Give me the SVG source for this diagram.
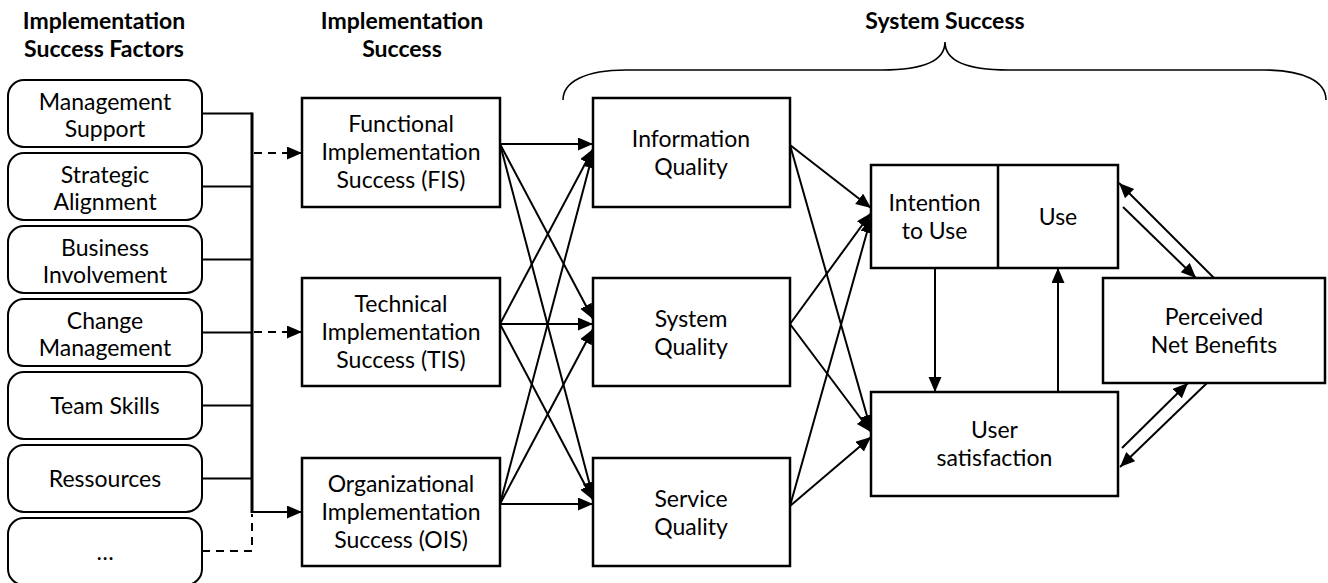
<svg xmlns="http://www.w3.org/2000/svg" width="1328" height="583" viewBox="0 0 1328 583">
<defs>
<marker id="ah" markerUnits="userSpaceOnUse" markerWidth="16" markerHeight="14" refX="15" refY="6.5" orient="auto">
<path d="M0,0 L15,6.5 L0,13 z" fill="#000"/>
</marker>
<style>
text{font-family:Lato,"Liberation Sans",sans-serif;font-size:23px;fill:#000;text-anchor:middle}
.title{font-weight:bold}
.rb{fill:#fff;stroke:#000;stroke-width:2}
.bx{fill:#fff;stroke:#000;stroke-width:2.5}
.c{fill:none;stroke:#000;stroke-width:2}
.a{fill:none;stroke:#000;stroke-width:2;marker-end:url(#ah)}
.d{fill:none;stroke:#000;stroke-width:2;stroke-dasharray:8,6}
.da{fill:none;stroke:#000;stroke-width:2;stroke-dasharray:8,6;marker-end:url(#ah)}
</style>
</defs>
<rect width="1328" height="583" fill="#fff"/>

<g id="titles">
<text class="title" x="104" y="29">Implementation</text>
<text class="title" x="104" y="57">Success Factors</text>
<text class="title" x="402" y="29">Implementation</text>
<text class="title" x="402" y="57">Success</text>
<text class="title" x="945" y="29">System Success</text>
<path d="M563,100 C563,82 585,70 626,70 L882,70 C925,70 945,60 945,42 C945,60 965,70 1008,70 L1264,70 C1305,70 1326,82 1326,100" fill="none" stroke="#000" stroke-width="1.6"/>
</g>

<g id="connectors">
<!-- factor lines to spine -->
<path class="c" d="M202,113.5 H252 M202,186.5 H252 M202,259.5 H252 M202,332.5 H252 M202,405.5 H252 M202,478.5 H252"/>
<path d="M252,112.5 V513" fill="none" stroke="#000" stroke-width="3"/>
<path class="d" d="M202,551 H252 V514"/>
<path class="da" d="M254,153 H302"/>
<path class="da" d="M254,332 H302"/>
<path class="a" d="M252,512 H302"/>
<!-- implementation success to system quality dimensions -->
<path class="a" d="M500,144 L593,144"/>
<path class="a" d="M500,144 L593,319"/>
<path class="a" d="M500,144 L593,497"/>
<path class="a" d="M500,324 L593,149"/>
<path class="a" d="M500,324 L593,324"/>
<path class="a" d="M500,324 L593,500"/>
<path class="a" d="M500,504 L593,153"/>
<path class="a" d="M500,504 L593,329"/>
<path class="a" d="M500,504 L593,504"/>
<!-- quality to intention / user satisfaction -->
<path class="a" d="M790,145 L871,208"/>
<path class="a" d="M790,145 L871,430"/>
<path class="a" d="M790,324 L871,213"/>
<path class="a" d="M790,324 L871,432"/>
<path class="a" d="M790,506 L871,218"/>
<path class="a" d="M790,506 L871,437"/>
<!-- intention / use / satisfaction -->
<path class="a" d="M935,268 V392"/>
<path class="a" d="M1058,392 V268"/>
<!-- use <-> net benefits -->
<path class="a" d="M1214,278 L1119,183"/>
<path class="a" d="M1123,207 L1196,278"/>
<path class="a" d="M1122,448 L1188,383"/>
<path class="a" d="M1207,383 L1120,467"/>
</g>

<g id="n-management-support"><rect class="rb" x="8" y="80" width="194" height="67" rx="16"/><text x="105" y="110">Management</text><text x="105" y="137">Support</text></g>
<g id="n-strategic-alignment"><rect class="rb" x="8" y="153" width="194" height="67" rx="16"/><text x="105" y="183">Strategic</text><text x="105" y="210">Alignment</text></g>
<g id="n-business-involvement"><rect class="rb" x="8" y="226" width="194" height="67" rx="16"/><text x="105" y="256">Business</text><text x="105" y="283">Involvement</text></g>
<g id="n-change-management"><rect class="rb" x="8" y="299" width="194" height="67" rx="16"/><text x="105" y="329">Change</text><text x="105" y="356">Management</text></g>
<g id="n-team-skills"><rect class="rb" x="8" y="372" width="194" height="67" rx="16"/><text x="105" y="414">Team Skills</text></g>
<g id="n-ressources"><rect class="rb" x="8" y="445" width="194" height="67" rx="16"/><text x="105" y="487">Ressources</text></g>
<g id="n-more"><rect class="rb" x="8" y="518" width="194" height="67" rx="16"/><text x="105" y="560">…</text></g>

<g id="n-fis"><rect class="bx" x="302" y="98" width="198" height="109"/><text x="401" y="132">Functional</text><text x="401" y="160">Implementation</text><text x="401" y="188">Success (FIS)</text></g>
<g id="n-tis"><rect class="bx" x="302" y="278" width="198" height="108"/><text x="401" y="312">Technical</text><text x="401" y="340">Implementation</text><text x="401" y="368">Success (TIS)</text></g>
<g id="n-ois"><rect class="bx" x="302" y="458" width="198" height="108"/><text x="401" y="492">Organizational</text><text x="401" y="520">Implementation</text><text x="401" y="548">Success (OIS)</text></g>

<g id="n-information-quality"><rect class="bx" x="593" y="98" width="197" height="109"/><text x="691" y="147">Information</text><text x="691" y="175">Quality</text></g>
<g id="n-system-quality"><rect class="bx" x="593" y="278" width="197" height="108"/><text x="691" y="327">System</text><text x="691" y="355">Quality</text></g>
<g id="n-service-quality"><rect class="bx" x="593" y="458" width="197" height="108"/><text x="691" y="507">Service</text><text x="691" y="535">Quality</text></g>

<g id="n-intention-use"><rect class="bx" x="871" y="165" width="247" height="103"/><line x1="998" y1="165" x2="998" y2="268" stroke="#000" stroke-width="2.5"/><text x="934.5" y="211">Intention</text><text x="934.5" y="239">to Use</text><text x="1058" y="225">Use</text></g>
<g id="n-user-satisfaction"><rect class="bx" x="871" y="392" width="247" height="104"/><text x="994.5" y="438">User</text><text x="994.5" y="466">satisfaction</text></g>
<g id="n-net-benefits"><rect class="bx" x="1103" y="278" width="222" height="105"/><text x="1214" y="325">Perceived</text><text x="1214" y="353">Net Benefits</text></g>
</svg>
